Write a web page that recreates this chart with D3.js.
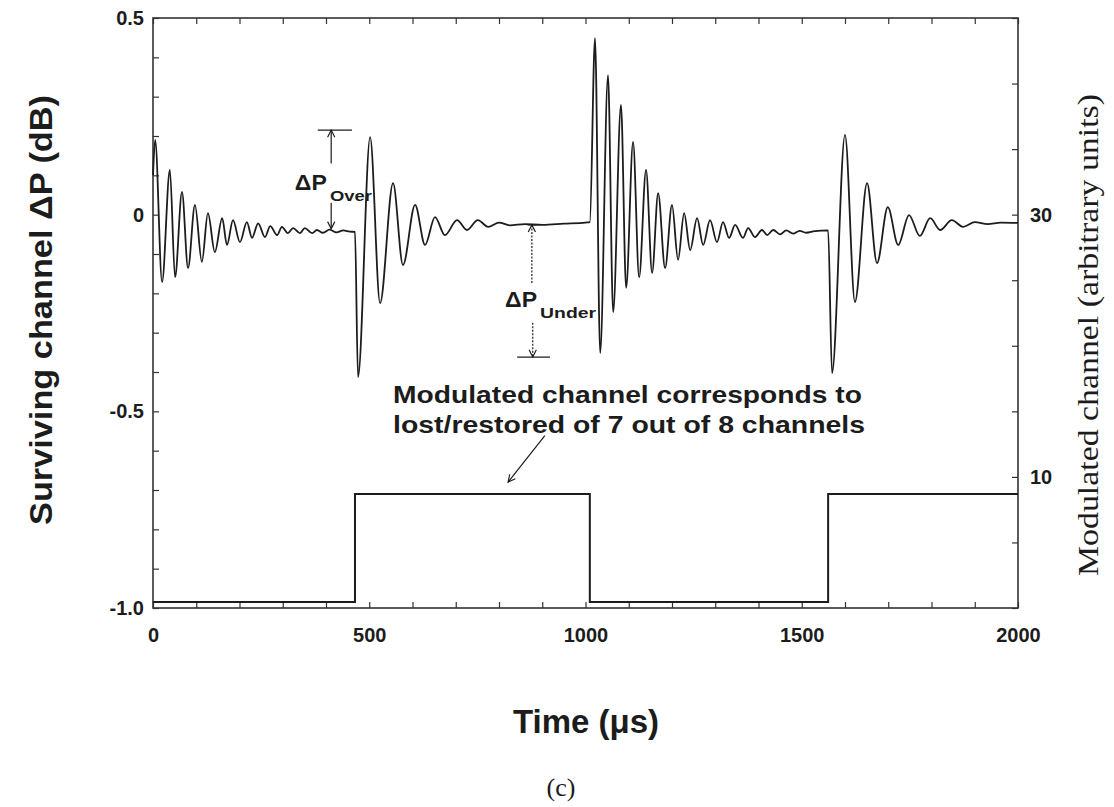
<!DOCTYPE html>
<html><head><meta charset="utf-8">
<script src="https://cdn.jsdelivr.net/npm/d3@7"></script>
<style>body{margin:0;background:#fff} svg{display:block}</style>
</head><body>
<svg id="chart" width="1114" height="807"></svg>
<script>
// ---- data ----
const survivingTime = [
  0, 5, 21, 39, 51, 67, 81, 97, 113, 127, 143, 160, 171, 185, 201, 217, 229, 243, 259, 271, 287, 298, 312, 324, 340, 351, 368, 379, 393, 408, 424, 440, 455, 467,
  474, 502, 525, 555, 578, 606, 629, 652, 675, 703, 726, 751, 775, 800, 825, 860, 900, 950, 1000, 1010,
  1022, 1034, 1052, 1064, 1082, 1094, 1110, 1124, 1140, 1154, 1168, 1184, 1200, 1214, 1228, 1242, 1258, 1272, 1288, 1304, 1318, 1332, 1346, 1364, 1376, 1392, 1408, 1420, 1434, 1450, 1464, 1480, 1495, 1510, 1530, 1561,
  1570, 1600, 1623, 1651, 1674, 1699, 1723, 1748, 1773, 1797, 1820, 1847, 1873, 1900, 1930, 1960, 2000
];
const survivingValue = [
  0.10, 0.190, -0.171, 0.114, -0.159, 0.058, -0.136, 0.025, -0.120, 0.004, -0.095, -0.009, -0.077, -0.014, -0.070, -0.019, -0.059, -0.022, -0.057, -0.029, -0.052, -0.031, -0.047, -0.034, -0.047, -0.034, -0.047, -0.039, -0.046, -0.038, -0.045, -0.040, -0.043, -0.044,
  -0.413, 0.197, -0.225, 0.080, -0.128, 0.025, -0.077, -0.006, -0.052, -0.014, -0.039, -0.014, -0.031, -0.020, -0.027, -0.024, -0.026, -0.023, -0.020, -0.019,
  0.449, -0.352, 0.355, -0.248, 0.279, -0.186, 0.185, -0.159, 0.114, -0.148, 0.055, -0.136, 0.025, -0.115, 0.004, -0.090, -0.009, -0.077, -0.014, -0.070, -0.019, -0.059, -0.026, -0.059, -0.034, -0.057, -0.039, -0.052, -0.039, -0.050, -0.040, -0.048, -0.041, -0.046, -0.042, -0.040,
  -0.403, 0.203, -0.222, 0.080, -0.123, 0.019, -0.077, -0.001, -0.054, -0.009, -0.039, -0.014, -0.031, -0.019, -0.024, -0.020, -0.021
];
const modulatedTime = [0, 467, 1010, 1561, 2000];
const modulatedValue = [0.45, 8.7, 0.45, 8.7, 8.7];

const xTicks = [0, 500, 1000, 1500, 2000];
const xTickLabels = ["0", "500", "1000", "1500", "2000"];
const leftTicks = [0.5, 0, -0.5, -1.0];
const leftTickLabels = ["0.5", "0", "-0.5", "-1.0"];
const rightTicks = [10, 30];
const rightTickLabels = ["10", "30"];

// ---- layout ----
const W = 1114, H = 807;
const L = 153, R = 1018, T = 18, B = 608;
const svg = d3.select("#chart");
const sans = "'Liberation Sans', Arial, Helvetica, sans-serif";
const serif = "'Liberation Serif', 'Times New Roman', serif";
const ink = "#1c1c1c";

const x = d3.scaleLinear().domain([0, 2000]).range([L, R]);
const y = d3.scaleLinear().domain([-1, 0.5]).range([B, T]);
const y2 = d3.scaleLinear().domain([0, 45]).range([B, T]);

svg.append("defs").append("marker")
  .attr("id", "arr").attr("viewBox", "0 0 10 10").attr("refX", 9).attr("refY", 5)
  .attr("markerWidth", 9).attr("markerHeight", 9).attr("markerUnits", "userSpaceOnUse")
  .attr("orient", "auto")
  .append("path").attr("d", "M1,1 L9,5 L1,9").attr("fill", "none").attr("stroke", ink).attr("stroke-width", 1.3);

function styleAxis(g) {
  g.select(".domain").remove();
  g.selectAll("line").attr("stroke", "#333").attr("stroke-width", 1.2);
  g.selectAll("text").attr("font-family", sans).attr("font-weight", "bold").attr("font-size", 20).attr("fill", ink);
}

// minor ticks (inward)
svg.append("g").attr("transform", `translate(0,${B})`)
  .call(d3.axisBottom(x).ticks(20).tickSize(-6).tickFormat("")).call(styleAxis);
svg.append("g").attr("transform", `translate(0,${T})`)
  .call(d3.axisTop(x).ticks(20).tickSize(-6).tickFormat("")).call(styleAxis);
svg.append("g").attr("transform", `translate(${L},0)`)
  .call(d3.axisLeft(y).ticks(15).tickSize(-6).tickFormat("")).call(styleAxis);
svg.append("g").attr("transform", `translate(${R},0)`)
  .call(d3.axisRight(y2).ticks(9).tickSize(-6).tickFormat("")).call(styleAxis);

// labels
svg.append("g").attr("transform", `translate(0,${B})`)
  .call(d3.axisBottom(x).tickValues(xTicks).tickSize(0).tickPadding(20).tickFormat((d, i) => xTickLabels[i])).call(styleAxis);
svg.append("g").attr("transform", `translate(${L},0)`)
  .call(d3.axisLeft(y).tickValues(leftTicks).tickSize(0).tickPadding(9).tickFormat((d, i) => leftTickLabels[i])).call(styleAxis);
svg.append("g").attr("transform", `translate(${R},0)`)
  .call(d3.axisRight(y2).tickValues(rightTicks).tickSize(0).tickPadding(12).tickFormat((d, i) => rightTickLabels[i])).call(styleAxis);

// frame
svg.append("rect").attr("x", L).attr("y", T).attr("width", R - L).attr("height", B - T)
  .attr("fill", "none").attr("stroke", "#333").attr("stroke-width", 1.6);

// modulated channel (right axis)
const modPts = modulatedTime.map((t, i) => [t, modulatedValue[i]]);
svg.append("path").datum(modPts)
  .attr("d", d3.line().x(d => x(d[0])).y(d => y2(d[1])).curve(d3.curveStepAfter))
  .attr("fill", "none").attr("stroke", ink).attr("stroke-width", 2);

// surviving channel
const survPts = survivingTime.map((t, i) => [t, survivingValue[i]]);
svg.append("path").datum(survPts)
  .attr("d", d3.line().x(d => x(d[0])).y(d => y(d[1])).curve(d3.curveMonotoneX))
  .attr("fill", "none").attr("stroke", ink).attr("stroke-width", 1.8).attr("stroke-linejoin", "round");

// ---- annotations ----
function seg(t0, v0, t1, v1, opts = {}) {
  const l = svg.append("line").attr("x1", x(t0)).attr("y1", y(v0)).attr("x2", x(t1)).attr("y2", y(v1))
    .attr("stroke", ink).attr("stroke-width", opts.w || 1.2);
  if (opts.arrow) l.attr("marker-end", "url(#arr)");
  if (opts.dash) l.attr("stroke-dasharray", opts.dash);
  return l;
}
function label(t, v, txt, size, opts = {}) {
  const e = svg.append("text").attr("x", x(t)).attr("y", y(v)).text(txt)
    .attr("font-family", opts.family || sans).attr("font-weight", opts.weight || "bold")
    .attr("font-size", size).attr("fill", ink);
  if (opts.len) e.attr("textLength", opts.len).attr("lengthAdjust", "spacingAndGlyphs");
  return e;
}

// ΔP Over
seg(381, 0.215, 460, 0.215);
seg(412, 0.13, 412, 0.215, {arrow: true});
seg(412, 0.03, 412, -0.036, {arrow: true});
label(328, 0.063, "ΔP", 22, {len: 32});
label(409, 0.035, "Over", 14, {len: 42});

// ΔP Under
seg(866, -0.026, 888, -0.026);
seg(876, -0.174, 876, -0.026, {dash: "2,1.5", arrow: true});
seg(878, -0.275, 878, -0.362, {arrow: true, dash: "2,1.5"});
seg(842, -0.362, 918, -0.362);
label(814, -0.235, "ΔP", 22, {len: 32});
label(895, -0.263, "Under", 14, {len: 56});

// modulated-channel note
label(555, -0.479, "Modulated channel corresponds to", 24, {len: 469});
label(555, -0.555, "lost/restored of 7 out of 8 channels", 24, {len: 472});
seg(906, -0.562, 821, -0.68, {arrow: true});

// axis titles
svg.append("text").attr("transform", "translate(52,310) rotate(-90)").attr("text-anchor", "middle")
  .attr("font-family", sans).attr("font-weight", "bold").attr("font-size", 32).attr("fill", ink)
  .attr("textLength", 430).attr("lengthAdjust", "spacingAndGlyphs")
  .text("Surviving channel ΔP (dB)");
svg.append("text").attr("transform", "translate(1098,335) rotate(-90)").attr("text-anchor", "middle")
  .attr("font-family", serif).attr("font-size", 30).attr("fill", ink)
  .attr("textLength", 482).attr("lengthAdjust", "spacingAndGlyphs")
  .text("Modulated channel (arbitrary units)");
svg.append("text").attr("x", 586).attr("y", 733).attr("text-anchor", "middle")
  .attr("font-family", sans).attr("font-weight", "bold").attr("font-size", 33).attr("fill", ink)
  .text("Time (μs)");
svg.append("text").attr("x", 561).attr("y", 796).attr("text-anchor", "middle")
  .attr("font-family", serif).attr("font-size", 26).attr("fill", ink)
  .text("(c)");
</script>
</body></html>
